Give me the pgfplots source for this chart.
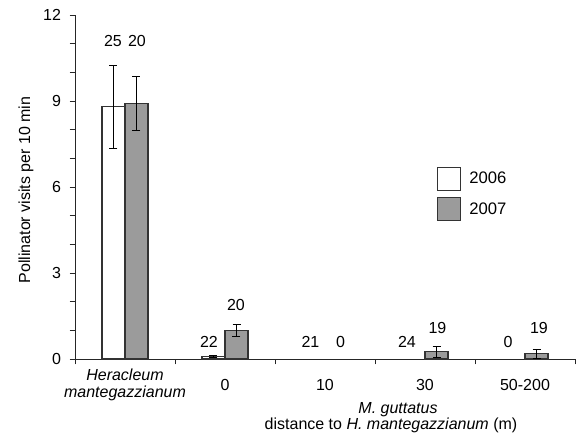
\documentclass[border=0pt]{standalone}
\usepackage{fontspec}
\setmainfont{Liberation Sans}
\usepackage{pgfplots}
\pgfplotsset{compat=1.18}
\newcommand\f{\fontsize{12}{14}\selectfont}
\newcommand\fl{\fontsize{12.5}{15}\selectfont}
\definecolor{bargray}{RGB}{155,155,155}
\begin{document}
\begin{tikzpicture}
\path[use as bounding box] (-56.25pt,-61.5pt) rectangle (375.75pt,269.25pt);
\begin{axis}[
  at={(0pt,0pt)}, anchor=south west,
  scale only axis, width=375pt, height=258pt,
  xmin=-0.5, xmax=4.5, ymin=0, ymax=12,
  axis x line=bottom, axis y line=left,
  axis line style={-, black!85, line width=0.7pt},
  ytick={0,3,6,9,12},
  minor ytick={1,2,4,5,7,8,10,11},
  xtick={-0.5,0.5,1.5,2.5,3.5,4.5},
  xticklabels={},
  tick align=outside,
  major tick length=4pt, minor tick length=4pt,
  tick style={black!85, line width=0.6pt},
  /pgf/number format/assume math mode=true,
  yticklabel style={font=\f, xshift=-3pt},
  ylabel={Pollinator visits per 10 min},
  ylabel style={font=\f, at={(axis description cs:-0.098,0.491)}, anchor=center},
  ybar=0pt, bar width=17.25pt,
  clip=false,
  legend style={draw=none, fill=none, at={(axis cs:3.12,6.72)}, anchor=north west,
    font=\fl, inner sep=0pt, row sep=5pt, nodes={inner sep=1.5pt},
    /tikz/every odd column/.append style={column sep=4.5pt}},
  legend cell align=left,
  legend image code/.code={\draw[#1, line width=0.8pt] (0pt,-8.6pt) rectangle (17.25pt,8.6pt);},
  error bars/error bar style={black, line width=0.7pt},
  error bars/error mark options={rotate=90, mark size=3pt, line width=0.7pt, black},
]
\addplot[fill=white, draw=black!80, line width=0.8pt,
  error bars/.cd, y dir=both, y explicit]
  coordinates {(0,8.8) +- (0,1.45) (1,0.08) +- (0,0.03)};
\addplot[fill=bargray, draw=black!80, line width=0.8pt,
  error bars/.cd, y dir=both, y explicit]
  coordinates {(0,8.92) +- (0,0.95) (1,0.99) +- (0,0.2) (3,0.25) +- (0,0.2) (4,0.18) +- (0,0.15)};
\legend{2006,2007}
% sample sizes
\node[font=\f] at (axis cs:-0.12,11.1) {25};
\node[font=\f] at (axis cs:0.12,11.1) {20};
\node[font=\f] at (axis cs:0.84,0.6) {22};
\node[font=\f] at (axis cs:1.11,1.88) {20};
\node[font=\f] at (axis cs:1.855,0.6) {21};
\node[font=\f] at (axis cs:2.155,0.6) {0};
\node[font=\f] at (axis cs:2.82,0.6) {24};
\node[font=\f] at (axis cs:3.125,1.07) {19};
\node[font=\f] at (axis cs:3.83,0.6) {0};
\node[font=\f] at (axis cs:4.14,1.07) {19};
% category labels
\node[font=\f\itshape, inner sep=1pt] at (axis cs:0,-0.55) {Heracleum};
\node[font=\f\itshape, inner sep=1pt] at (axis cs:0,-1.2) {mantegazzianum};
\node[font=\f] at (axis cs:1,-0.9) {0};
\node[font=\f] at (axis cs:2,-0.9) {10};
\node[font=\f] at (axis cs:3,-0.9) {30};
\node[font=\f] at (axis cs:4,-0.9) {50-200};
\node[font=\f\itshape] at (axis cs:2.73,-1.77) {M. guttatus};
\node[font=\f] at (axis cs:2.66,-2.3) {distance to \textit{H. mantegazzianum} (m)};
\end{axis}
\end{tikzpicture}
\end{document}
